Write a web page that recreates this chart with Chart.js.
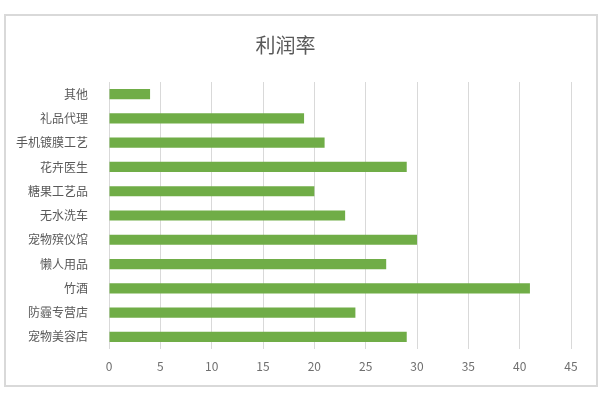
<!DOCTYPE html>
<html>
<head>
<meta charset="utf-8">
<script src="https://cdn.jsdelivr.net/npm/chart.js@4"></script>
<style>
  body { margin: 0; background: #fff; }
  #wrap { position: relative; width: 600px; height: 400px; }
  #frame {
    position: absolute; left: 4px; top: 14px; width: 590px; height: 369px;
    border: 2px solid #d9d9d9; pointer-events: none;
  }
</style>
</head>
<body>
<div id="wrap">
  <canvas id="profitChart" width="600" height="400"></canvas>
  <div id="frame"></div>
</div>
<script>
// categories, top to bottom
const categories = ['其他', '礼品代理', '手机镀膜工艺', '花卉医生', '糖果工艺品', '无水洗车',
  '宠物殡仪馆', '懒人用品', '竹酒', '防霾专营店', '宠物美容店'];
const profitRate = [4, 19, 21, 29, 20, 23, 30, 27, 41, 24, 29];
const xTicks = [0, 5, 10, 15, 20, 25, 30, 35, 40, 45];

function profitChart() {
  const ctx = document.getElementById('profitChart');

  new Chart(ctx, {
    type: 'bar',
    data: {
      labels: categories,
      datasets: [
        {
          label: '利润率',
          data: profitRate,
          backgroundColor: '#70AD47',
          borderWidth: 0,
          categoryPercentage: 1,
          barPercentage: 0.42,
        },
      ],
    },
    options: {
      indexAxis: 'y',
      responsive: false,
      animation: false,
      layout: {
        padding: { left: 0, right: 29, top: 0, bottom: 0 },
      },
      plugins: {
        legend: {
          display: false,
        },
        tooltip: {
          enabled: false,
        },
        title: {
          display: true,
          text: '利润率',
          color: '#595959',
          font: { family: '"Noto Sans CJK SC", sans-serif', size: 20, weight: 'normal', lineHeight: 1.2 },
          padding: { top: 33, bottom: 25 },
        },
      },
      scales: {
        x: {
          min: 0,
          max: 45,
          afterBuildTicks: (scale) => {
            scale.ticks = xTicks.map((v) => ({ value: v }));
          },
          afterFit: (scale) => {
            scale.height = 51;
          },
          grid: {
            color: '#d9d9d9',
            lineWidth: 1,
            drawTicks: false,
          },
          border: { display: false },
          ticks: {
            color: '#6f6f6f',
            padding: 10,
            font: { family: '"Noto Sans CJK SC", sans-serif', size: 12 },
          },
        },
        y: {
          afterFit: (scale) => {
            scale.width = 109;
          },
          grid: { display: false },
          border: { display: false },
          ticks: {
            color: '#595959',
            padding: 13,
            autoSkip: false,
            font: { family: '"Noto Sans CJK SC", sans-serif', size: 12 },
          },
        },
      },
    },
  });
}

profitChart();
</script>
</body>
</html>
